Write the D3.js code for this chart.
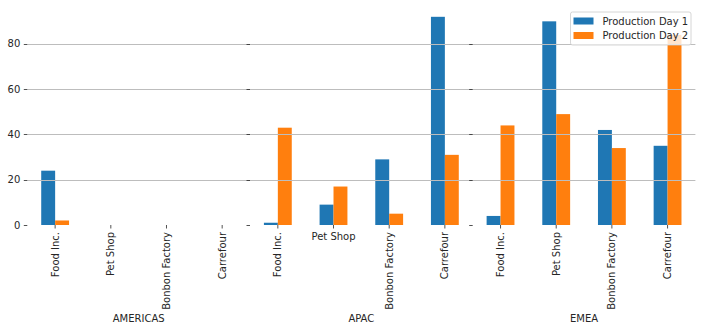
<!DOCTYPE html>
<html>
<head>
<meta charset="utf-8">
<script src="https://cdn.jsdelivr.net/npm/d3@7"></script>
<style>
  body { margin:0; background:#fff; }
  svg { display:block; font-family:"DejaVu Sans", sans-serif; }
</style>
</head>
<body>
<svg id="chart" width="703" height="331"></svg>
<script>
// data
var regions = ["AMERICAS", "APAC", "EMEA"];
var companies = ["Food Inc.", "Pet Shop", "Bonbon Factory", "Carrefour"];
var seriesNames = ["Production Day 1", "Production Day 2"];
var day1 = [[24, 0, 0, 0], [1, 9, 29, 92], [4, 90, 42, 35]];
var day2 = [[2, 0, 0, 0], [43, 17, 5, 31], [44, 49, 34, 84]];
var yTicks = [0, 20, 40, 60, 80];
var colors = ["#1f77b4", "#ff7f0e"];

var svg = d3.select("#chart");
var plotLeft = 27.3, panelW = 222.7, plotTop = 6.4, plotBottom = 225;
var ink = "#262626";

var yMax = d3.max(day1.concat(day2), function(r) { return d3.max(r); }) * 1.05;
var y = d3.scaleLinear().domain([0, yMax]).range([plotBottom, plotTop]);

var panels = d3.scaleBand().domain(regions).range([plotLeft, plotLeft + panelW * 3]);

regions.forEach(function(region, ri) {
  var x0 = panels(region);
  var x = d3.scaleBand().domain(companies).range([x0, x0 + panelW]);
  var xs = d3.scaleBand().domain(seriesNames).range([x.bandwidth() * 0.25, x.bandwidth() * 0.75]);
  var g = svg.append("g");

  var rows = companies.map(function(c, i) { return {c: c, v: [day1[ri][i], day2[ri][i]]}; });

  rows.forEach(function(row) {
    g.selectAll(null)
      .data(row.v)
      .enter().append("rect")
      .attr("x", function(d, k) { return x(row.c) + xs(seriesNames[k]); })
      .attr("y", function(d) { return y(d); })
      .attr("width", xs.bandwidth())
      .attr("height", function(d) { return plotBottom - y(d); })
      .attr("fill", function(d, k) { return colors[k]; });
  });

  // grid lines (drawn over the bars, as in the original)
  g.selectAll(".grid")
    .data(yTicks.filter(function(t) { return t > 0; }))
    .enter().append("line")
    .attr("x1", x0).attr("x2", x0 + panelW)
    .attr("y1", function(d) { return Math.round(y(d)) + 0.5; })
    .attr("y2", function(d) { return Math.round(y(d)) + 0.5; })
    .attr("stroke", "#bdbdbd").attr("stroke-width", 1);

  // y tick marks
  g.selectAll(".yt")
    .data(yTicks)
    .enter().append("line")
    .attr("x1", x0 - 3.5).attr("x2", x0)
    .attr("y1", function(d) { return Math.round(y(d)) + 0.5; })
    .attr("y2", function(d) { return Math.round(y(d)) + 0.5; })
    .attr("stroke", ink).attr("stroke-width", 0.8);

  if (ri === 0) {
    g.selectAll(".yl")
      .data(yTicks)
      .enter().append("text")
      .attr("x", x0 - 7)
      .attr("y", function(d) { return y(d); })
      .attr("dy", "0.35em")
      .attr("text-anchor", "end")
      .attr("font-size", 10)
      .attr("fill", ink)
      .text(function(d) { return d; });
  }

  // x ticks and labels
  companies.forEach(function(c) {
    var cx = x(c) + x.bandwidth() / 2;
    g.append("line")
      .attr("x1", cx).attr("x2", cx)
      .attr("y1", plotBottom).attr("y2", plotBottom + 3.5)
      .attr("stroke", ink).attr("stroke-width", 0.8);
    if (region === "APAC" && c === "Pet Shop") {
      g.append("text")
        .attr("x", cx).attr("y", plotBottom + 14.5)
        .attr("text-anchor", "middle")
        .attr("font-size", 10).attr("fill", ink)
        .text(c);
    } else {
      g.append("text")
        .attr("transform", "translate(" + cx + "," + (plotBottom + 7) + ") rotate(-90)")
        .attr("dy", "0.35em")
        .attr("text-anchor", "end")
        .attr("font-size", 10).attr("fill", ink)
        .text(c);
    }
  });

  g.append("text")
    .attr("x", x0 + panelW / 2).attr("y", 322)
    .attr("text-anchor", "middle")
    .attr("font-size", 10).attr("fill", ink)
    .text(region);
});

// legend
var lg = svg.append("g").attr("transform", "translate(570.5,12)");
lg.append("rect")
  .attr("width", 120.5).attr("height", 33)
  .attr("rx", 2)
  .attr("fill", "#fff").attr("fill-opacity", 0.8)
  .attr("stroke", "#cccccc").attr("stroke-width", 0.8);
seriesNames.forEach(function(s, k) {
  lg.append("rect")
    .attr("x", 3).attr("y", 5.5 + k * 14.5)
    .attr("width", 20).attr("height", 7)
    .attr("fill", colors[k]);
  lg.append("text")
    .attr("x", 32).attr("y", 9 + k * 14.5)
    .attr("dy", "0.35em")
    .attr("font-size", 10).attr("fill", ink)
    .text(s);
});
</script>
</body>
</html>
